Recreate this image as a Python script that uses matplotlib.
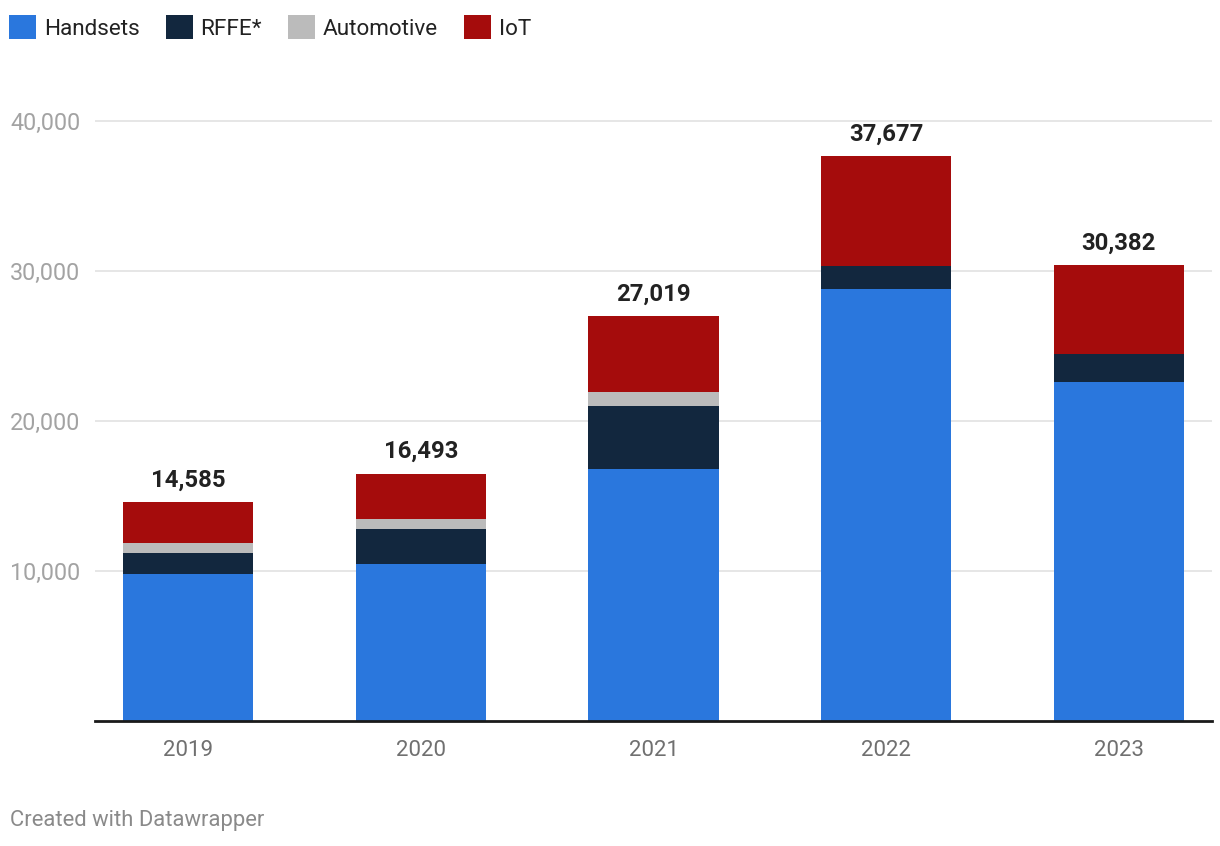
import matplotlib.pyplot as plt
import numpy as np

years = ["2019", "2020", "2021", "2022", "2023"]
handsets = [9775, 10461, 16830, 28794, 22570]
rffe = [1440, 2362, 4158, 1509, 1872]
automotive = [640, 644, 975, 0, 0]
iot = [2730, 3026, 5056, 7374, 5940]
totals = [14585, 16493, 27019, 37677, 30382]

series_names = ["Handsets", "RFFE*", "Automotive", "IoT"]
series_colors = ["#2a77dd", "#12273e", "#bbbbbb", "#a50c0c"]
yticks = [10000, 20000, 30000, 40000]

plt.rcParams["font.family"] = ["Roboto", "DejaVu Sans"]

W, H = 1220, 846
fig = plt.figure(figsize=(W / 100, H / 100), dpi=100)
# axes placed in pixel terms: x 95..1212, y 91..721 (top = 42,000)
ax = fig.add_axes([95 / W, (H - 721) / H, (1212 - 95) / W, (721 - 91) / H])

x = np.arange(len(years))
bottom = np.zeros(len(years))
for name, vals, col in zip(series_names, [handsets, rffe, automotive, iot], series_colors):
    ax.bar(x, vals, width=0.56, bottom=bottom, color=col, label=name, zorder=3)
    bottom += np.array(vals)

for xi, tot in zip(x, totals):
    ax.annotate(f"{tot:,}", (xi, tot), xytext=(0, 7.5), textcoords="offset points",
                ha="center", va="bottom", fontsize=17.2, fontweight="bold", color="#222222")

ax.set_xlim(-0.4, 4.4)
ax.set_ylim(0, 42000)
ax.set_xticks(x)
ax.set_xticklabels(years, fontsize=16, color="#707070")
ax.set_yticks(yticks)
ax.set_yticklabels([f"{v:,}" for v in yticks], fontsize=16.8, color="#a3a3a3", ha="left")
ax.tick_params(axis="y", length=0, pad=61)
ax.tick_params(axis="x", length=0, pad=14)
ax.grid(axis="y", color="#e2e2e2", linewidth=1.2, zorder=0)

for s in ["top", "right", "left"]:
    ax.spines[s].set_visible(False)
ax.spines["bottom"].set_color("#1a1a1a")
ax.spines["bottom"].set_linewidth(2)
ax.spines["bottom"].set_zorder(4)

leg = fig.legend(loc="upper left", bbox_to_anchor=(-11 / W, 1 + 5 / H), ncol=4, frameon=False,
                 fontsize=16.2, handlelength=1.2, handleheight=1.25, handletextpad=0.35,
                 columnspacing=1.15, labelcolor="#222222")

fig.text(10 / W, 1 - 820 / H, "Created with Datawrapper", fontsize=15.8, color="#8a8a8a",
         ha="left", va="center")

fig.savefig("out.png", dpi=100)
